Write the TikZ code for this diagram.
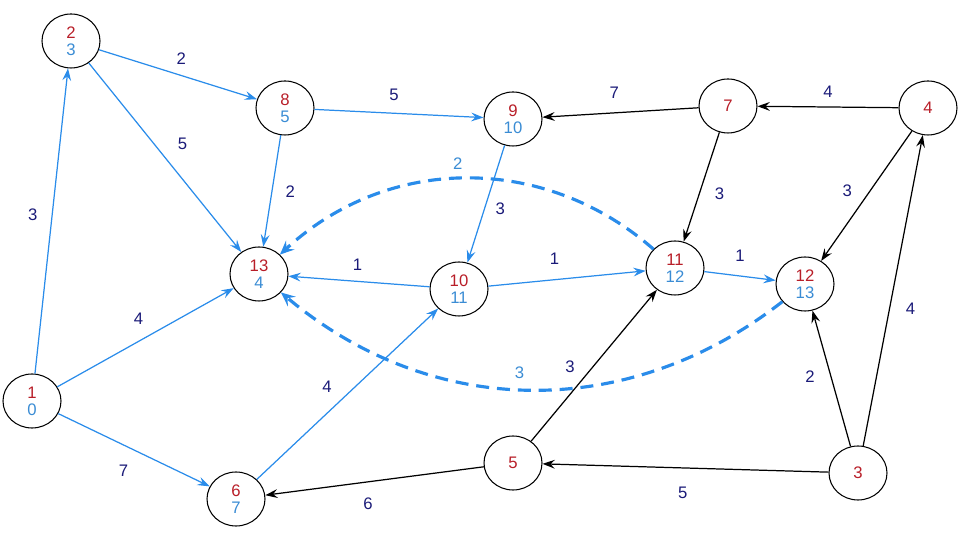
\documentclass[tikz,border=0pt]{standalone}
\usepackage{fontspec}
\setmainfont{Liberation Sans}
\usepackage{xcolor}
\usepackage{tikz}
\usetikzlibrary{shapes.geometric, arrows.meta, positioning}

\definecolor{numred}{RGB}{184,30,40}
\definecolor{numblue}{RGB}{58,140,212}
\definecolor{edgeblue}{RGB}{42,140,234}
\definecolor{wtnavy}{RGB}{26,26,120}

\newcommand{\vlab}[2]{\textcolor{numred}{#1}\\\textcolor{numblue}{#2}}

\begin{document}
\begin{tikzpicture}[scale=1]
\tikzstyle{vertex}=[ellipse,draw,line width=0.6pt,minimum width=1.16cm,minimum height=1.08cm,inner sep=0pt,align=center,font=\fontsize{9.5}{9.6}\selectfont]
\tikzstyle{tree}=[edgeblue,line width=0.7pt,-{Stealth[length=7pt,width=5pt,inset=2.5pt]}]
\tikzstyle{plain}=[black,line width=0.7pt,-{Stealth[length=7pt,width=5pt,inset=2.5pt]}]
\tikzstyle{back}=[edgeblue,line width=1.8pt,dash pattern=on 7.4pt off 4.5pt,-{Stealth[length=8pt,width=7pt,inset=3pt]}]
\tikzstyle{wt}=[text=wtnavy,inner sep=1pt,font=\fontsize{9.5}{10}\selectfont]
\tikzstyle{bwt}=[wt,text=numblue]

\useasboundingbox (0,0) rectangle (19.2,10.8);

% vertices
\node[vertex] (v1) at (0.64,2.78) {\vlab{1}{0}};
\node[vertex] (v2) at (1.42,9.98) {\vlab{2}{3}};
\node[vertex] (v8) at (5.70,8.64) {\vlab{8}{5}};
\node[vertex] (v9) at (10.26,8.42) {\vlab{9}{10}};
\node[vertex] (v7) at (14.56,8.68) {\textcolor{numred}{7}};
\node[vertex] (v4) at (18.56,8.64) {\textcolor{numred}{4}};
\node[vertex] (v13) at (5.18,5.32) {\vlab{13}{4}};
\node[vertex] (v10) at (9.18,5.02) {\vlab{10}{11}};
\node[vertex] (v11) at (13.50,5.44) {\vlab{11}{12}};
\node[vertex] (v12) at (16.10,5.12) {\vlab{12}{13}};
\node[vertex] (v6) at (4.72,0.82) {\vlab{6}{7}};
\node[vertex] (v5) at (10.26,1.54) {\textcolor{numred}{5}};
\node[vertex] (v3) at (17.16,1.34) {\textcolor{numred}{3}};

% blue edges
\draw[tree] (v1) -- node[wt,pos=.52,left=7pt] {3} (v2);
\draw[tree] (v2) -- node[wt,pos=.52,above=5pt] {2} (v8);
\draw[tree] (v2) -- node[wt,pos=.43,right=12pt] {5} (v13);
\draw[tree] (v8) -- node[wt,pos=.51,right=6.5pt] {2} (v13);
\draw[tree] (v8) -- node[wt,pos=.47,above=6pt] {5} (v9);
\draw[tree] (v1) -- node[wt,pos=.46,above=8.5pt] {4} (v13);
\draw[tree] (v1) -- node[wt,pos=.43,below=10pt] {7} (v6);
\draw[tree] (v6) -- node[wt,pos=.46,above left=5pt] {4} (v10);
\draw[tree] (v9) -- node[wt,pos=.54,right=5pt] {3} (v10);
\draw[tree] (v10) -- node[wt,pos=.51,above=5pt] {1} (v13);
\draw[tree] (v10) -- node[wt,pos=.42,above=7.5pt] {1} (v11);
\draw[tree] (v11) -- node[wt,pos=.5,above=7pt] {1} (v12);

% dashed edges
\draw[back] (v11) to[bend right=42] node[bwt,pos=.52,above=3.5pt] {2} (v13);
\draw[back] (v12) to[bend left=39] node[bwt,pos=.52,above=4pt] {3} (v13);

% black edges
\draw[plain] (v7) -- node[wt,pos=.54,above=7pt] {7} (v9);
\draw[plain] (v4) -- node[wt,pos=.5,above=4pt] {4} (v7);
\draw[plain] (v7) -- node[wt,pos=.56,right=7.5pt] {3} (v11);
\draw[plain] (v4) -- node[wt,pos=.46,left=9pt] {3} (v12);
\draw[plain] (v3) -- node[wt,pos=.44,right=8pt] {4} (v4);
\draw[plain] (v3) -- node[wt,pos=.51,left=8pt] {2} (v12);
\draw[plain] (v3) -- node[wt,pos=.51,below=9.5pt] {5} (v5);
\draw[plain] (v5) -- node[wt,pos=.49,left=9pt] {3} (v11);
\draw[plain] (v5) -- node[wt,pos=.53,below=7.5pt] {6} (v6);

\end{tikzpicture}
\end{document}
